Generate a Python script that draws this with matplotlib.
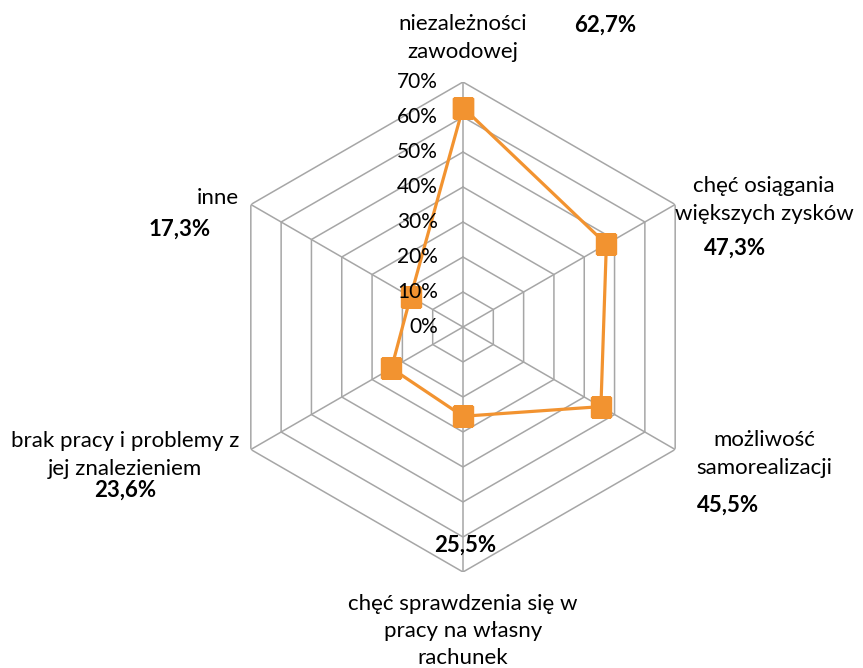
import numpy as np
import matplotlib
matplotlib.use("Agg")
from matplotlib import pyplot as plt
from matplotlib import transforms

categories = [
    "niezależności\nzawodowej",
    "chęć osiągania\nwiększych zysków",
    "możliwość\nsamorealizacji",
    "chęć sprawdzenia się w\npracy na własny\nrachunek",
    "brak pracy i problemy z\njej znalezieniem",
    "inne",
]
values = [62.7, 47.3, 45.5, 25.5, 23.6, 17.3]
ticks = [0, 10, 20, 30, 40, 50, 60, 70]

plt.rcParams['font.family'] = ['Lato', 'DejaVu Sans']
W, H = 863, 668
fig = plt.figure(figsize=(W / 100, H / 100), dpi=100)

# center at (463, 327) px, radius 245 px
cx, cy, R = 463, 327, 245
ax = fig.add_axes([(cx - R) / W, (H - cy - R) / H, 2 * R / W, 2 * R / H], projection='polar')
ax.set_theta_zero_location('N')
ax.set_theta_direction(-1)
ax.set_ylim(0, 70)
ax.grid(False)
ax.set_xticks([])
ax.set_yticks([])
ax.spines['polar'].set_visible(False)

n = len(categories)
angles = np.arange(n) * 2 * np.pi / n
closed = np.append(angles, angles[0])

grid_col = '#a6a6a6'
for t in ticks[1:]:
    ax.plot(closed, [t] * (n + 1), color=grid_col, lw=1.1, zorder=1)
for a in angles:
    ax.plot([a, a], [0, ticks[-1]], color=grid_col, lw=1.1, zorder=1)

orange = '#f29330'
ax.plot(closed, values + values[:1], color=orange, lw=2.3, zorder=3,
        marker='s', markersize=15, markerfacecolor=orange, markeredgecolor=orange)

off = transforms.offset_copy(ax.transData, fig=fig, x=-25, y=0, units='dots')
for t in ticks:
    ax.text(0, t, f"{t}%", transform=off, ha='right', va='center', fontsize=15, zorder=4)

# category labels and values, pixel positions
lab_pos = [(463, 38), (764, 200), (764, 454), (463, 631), (125, 455), (218, 198)]
val_pos = [(605, 25), (735, 248), (728, 505), (465, 545), (125, 490), (180, 229)]
for c, v, (lx, ly), (vx, vy) in zip(categories, values, lab_pos, val_pos):
    fig.text(lx / W, 1 - ly / H, c, ha='center', va='center', fontsize=16,
             linespacing=1.45)
    fig.text(vx / W, 1 - vy / H, f"{v:.1f}%".replace('.', ','), ha='center', va='center',
             fontsize=16, fontweight='bold')

fig.savefig('out.png', dpi=100)
